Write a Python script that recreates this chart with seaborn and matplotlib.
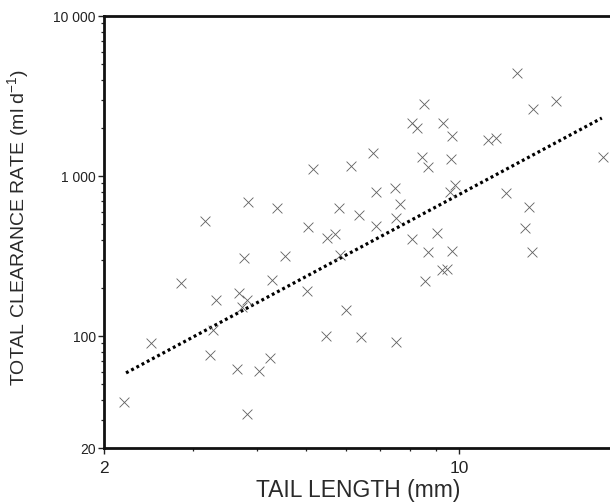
import numpy as np
import pandas as pd
import matplotlib
matplotlib.use("Agg")
import matplotlib.pyplot as plt
import seaborn as sns
from matplotlib.ticker import LogLocator, NullFormatter, FixedLocator, FixedFormatter

# tail length (mm) vs total clearance rate (ml d-1)
tail_length = [
    2.19, 2.47, 2.84, 3.16, 3.33, 3.28, 3.23, 3.66, 3.84, 3.82,
    3.78, 3.68, 3.82, 3.73, 4.03, 4.25, 4.39, 4.28, 4.55, 5.03,
    5.05, 5.16, 5.49, 5.71, 5.98, 5.83, 6.12, 5.81, 5.48, 6.35,
    6.41, 6.76, 6.86, 6.87, 7.48, 7.65, 7.51, 7.51, 8.07, 8.25,
    8.08, 8.54, 9.28, 9.67, 8.44, 8.70, 9.63, 9.82, 9.60, 9.06,
    8.67, 9.67, 9.24, 9.47, 8.55, 11.4, 11.8, 12.35, 13.0, 14.0,
    15.5, 13.75, 13.5, 13.9, 19.2,
]
clearance_rate = [
    38.7, 90.4, 214, 523, 169, 109, 76, 62.6, 691, 32.5,
    306, 187, 168, 151, 60.9, 72.6, 631, 224, 318, 192,
    480, 1106, 413, 434, 145, 323, 1163, 636, 100, 573,
    99.3, 1387, 798, 487, 838, 666, 550, 92.1, 2144, 1995,
    402, 2806, 2153, 1786, 1309, 1133, 1272, 879, 798, 442,
    336, 338, 258, 264, 220, 1679, 1735, 787, 4400, 2612,
    2942, 643, 471, 336, 1321,
]

# regression line: rate = fit_a * length ** fit_b
fit_a = 15.3
fit_b = 1.70
fit_from, fit_to = 2.21, 19.1

x_ticks = [2, 10]
x_ticklabels = ["2", "10"]
y_ticks = [20, 100, 1000, 10000]
y_ticklabels = ["20", "100", "1 000", "10 000"]

df = pd.DataFrame({"length": tail_length, "rate": clearance_rate})
fit_x = np.geomspace(fit_from, fit_to, 60)
fit_df = pd.DataFrame({"length": fit_x, "rate": fit_a * fit_x ** fit_b})

sns.set_style("ticks")
plt.rcParams["font.family"] = ["Liberation Sans", "DejaVu Sans"]

fig = plt.figure(figsize=(6.1, 5.04), dpi=100)
ax = fig.add_axes([104 / 610, 56 / 504, 508 / 610, 432 / 504])

sns.lineplot(data=fit_df, x="length", y="rate", ax=ax, color="black",
             linewidth=2.3, linestyle=(0, (0.9, 0.95)), zorder=2)
sns.scatterplot(data=df, x="length", y="rate", ax=ax, marker="x", s=50,
                color="#606060", linewidth=0.6, zorder=3)

ax.set_xscale("log")
ax.set_yscale("log")
ax.set_xlim(2, 20)
ax.set_ylim(20, 10000)

ax.xaxis.set_major_locator(FixedLocator(x_ticks))
ax.xaxis.set_major_formatter(FixedFormatter(x_ticklabels))
ax.xaxis.set_minor_locator(LogLocator(base=10, subs=np.arange(2, 10)))
ax.xaxis.set_minor_formatter(NullFormatter())
ax.yaxis.set_major_locator(FixedLocator(y_ticks))
ax.yaxis.set_major_formatter(FixedFormatter(y_ticklabels))
ax.yaxis.set_minor_locator(LogLocator(base=10, subs=np.arange(2, 10)))
ax.yaxis.set_minor_formatter(NullFormatter())

for side in ["left", "bottom", "top", "right"]:
    ax.spines[side].set_visible(True)
    ax.spines[side].set_linewidth(2.0)
    ax.spines[side].set_color("#111111")

ax.tick_params(axis="both", which="major", direction="out", length=4.5,
               width=1.0, color="#222222")
ax.tick_params(axis="both", which="minor", direction="out", length=2.5,
               width=0.9, color="#222222")
ax.tick_params(axis="x", which="major", labelsize=12.5, pad=5, labelcolor="#222222")
ax.tick_params(axis="y", which="major", labelsize=10, pad=1.5, labelcolor="#222222")
ax.tick_params(top=False, right=False, which="both")

ax.set_xlabel("TAIL LENGTH (mm)", fontsize=16.5, color="#2a2a2a")
ax.set_ylabel("TOTAL CLEARANCE RATE (ml d$^{\\mathregular{-1}}$)", fontsize=14,
              color="#2a2a2a")
ax.xaxis.set_label_coords(0.5, -0.072)
ax.yaxis.set_label_coords(-0.142, 0.51)

fig.savefig("out.png", dpi=100)
